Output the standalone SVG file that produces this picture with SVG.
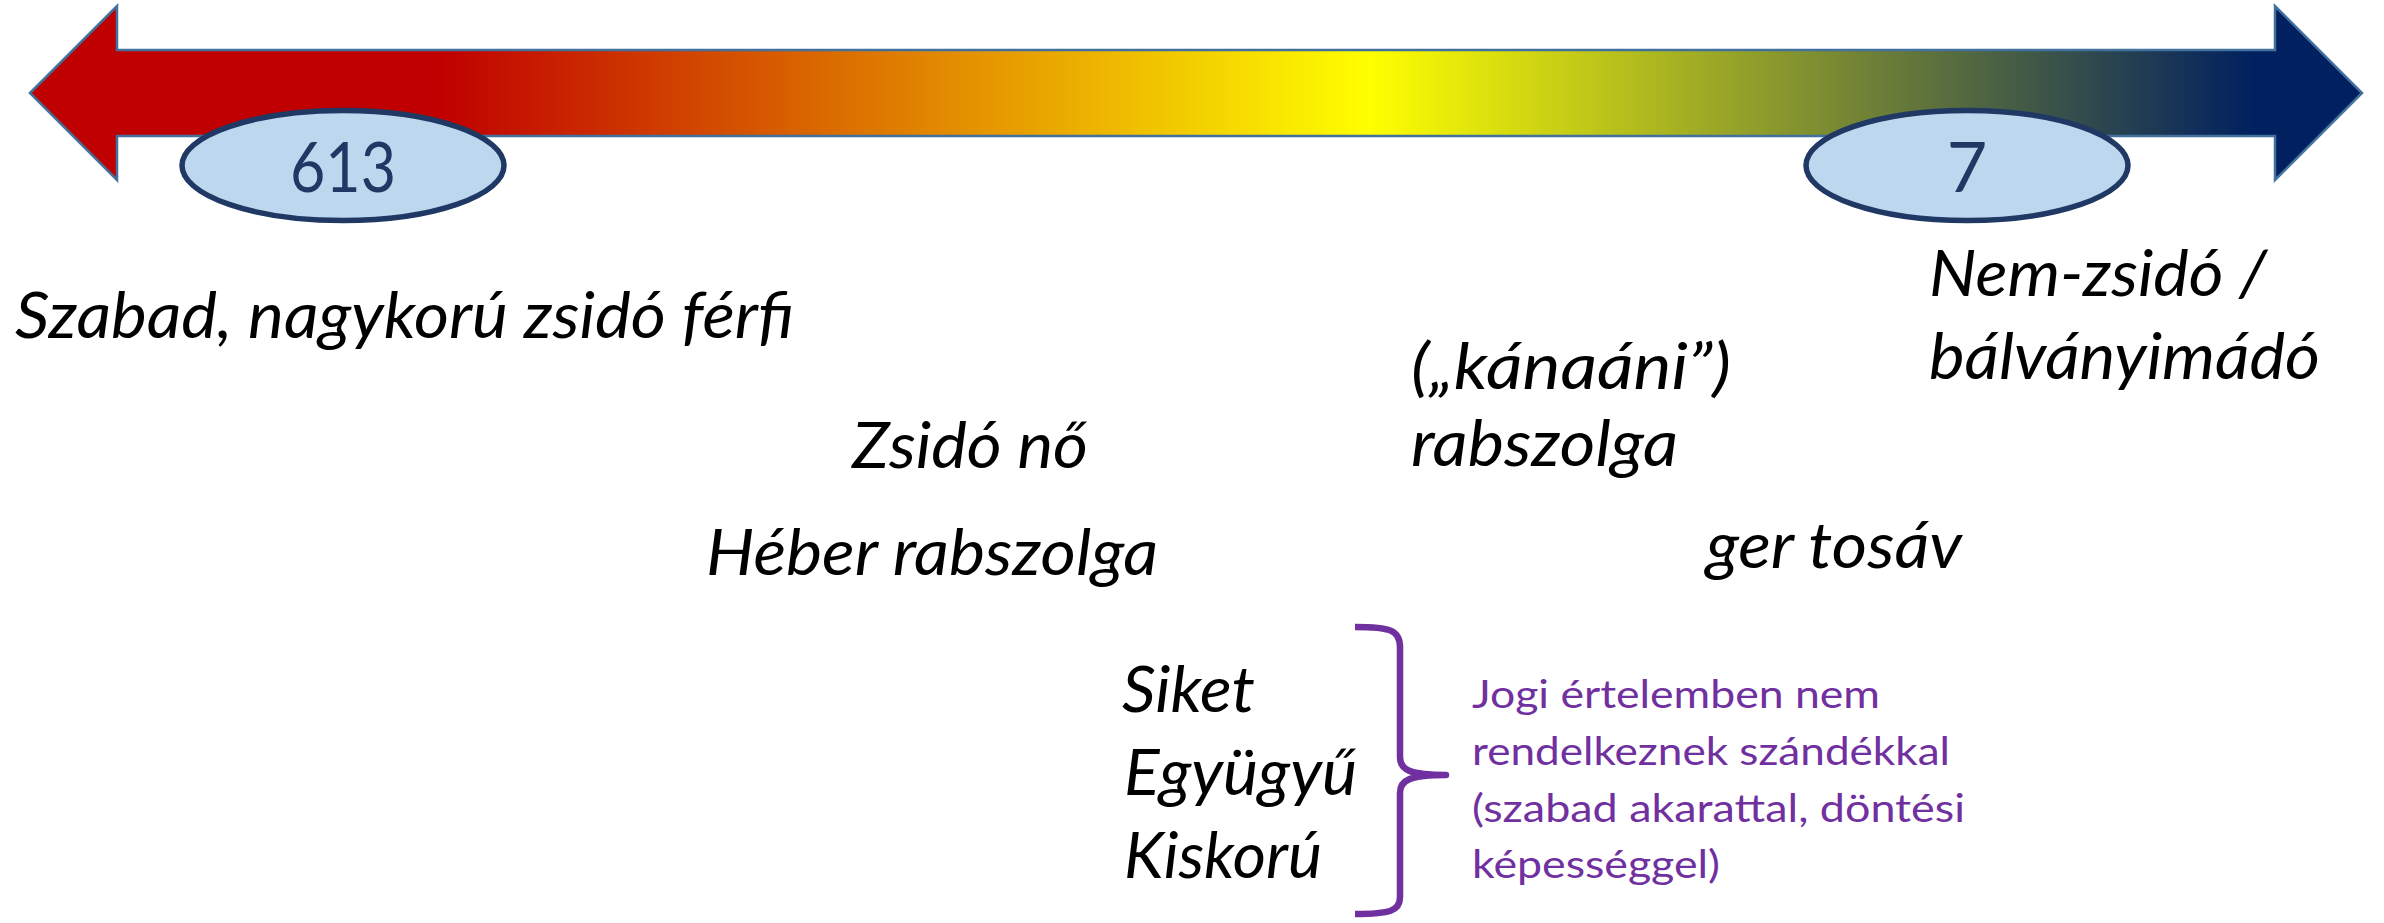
<svg xmlns="http://www.w3.org/2000/svg" width="2384" height="923" viewBox="0 0 2384 923">
  <style>
    .lbl { font-family: Lato, "Liberation Sans", sans-serif; font-style: italic; font-size: 64px; fill: #000000; }
    .note { font-family: Lato, "Liberation Sans", sans-serif; font-size: 39px; fill: #7030A0; }
    .num { font-family: Lato, "Liberation Sans", sans-serif; font-size: 70px; fill: #203864; text-anchor: middle; }
    .oval { fill: #BDD7EE; stroke: #203864; stroke-width: 5.5; }
    .brace { fill: none; stroke: #7030A0; stroke-width: 6.5; stroke-linejoin: round; }
  </style>
  <defs>
    <linearGradient id="spectrum" gradientUnits="userSpaceOnUse" x1="30" y1="0" x2="2362" y2="0">
      <stop offset="0" stop-color="#C00000"/>
      <stop offset="0.176" stop-color="#C00000"/>
      <stop offset="0.574" stop-color="#FFFF00"/>
      <stop offset="0.954" stop-color="#002060"/>
      <stop offset="1" stop-color="#002060"/>
    </linearGradient>
  </defs>
  <rect width="2384" height="923" fill="#FFFFFF"/>

  <g id="scale-arrow">
    <path d="M30,93 L117,6 L117,50 L2275,50 L2275,6 L2362,93 L2275,180 L2275,136 L117,136 L117,180 Z" fill="url(#spectrum)" stroke="#41719C" stroke-width="2.5" stroke-linejoin="miter"/>
  </g>

  <g id="node-613">
    <ellipse class="oval" cx="343" cy="165.5" rx="161" ry="55"/>
    <text class="num" x="343" y="192" textLength="106" lengthAdjust="spacingAndGlyphs">613</text>
  </g>

  <g id="node-7">
    <ellipse class="oval" cx="1967" cy="165.5" rx="161" ry="55"/>
    <text class="num" x="1967" y="192">7</text>
  </g>

  <g id="label-szabad">
    <text class="lbl" x="15" y="338" textLength="779" lengthAdjust="spacingAndGlyphs">Szabad, nagykorú zsidó férfi</text>
  </g>
  <g id="label-zsido-no">
    <text class="lbl" x="852" y="468" textLength="236" lengthAdjust="spacingAndGlyphs">Zsidó nő</text>
  </g>
  <g id="label-heber">
    <text class="lbl" x="706" y="575" textLength="452" lengthAdjust="spacingAndGlyphs">Héber rabszolga</text>
  </g>
  <g id="label-kanaani">
    <text class="lbl" x="1411" y="389" textLength="320" lengthAdjust="spacingAndGlyphs">(„kánaáni”)</text>
    <text class="lbl" x="1411" y="466" textLength="267" lengthAdjust="spacingAndGlyphs">rabszolga</text>
  </g>
  <g id="label-ger">
    <text class="lbl" x="1706" y="568" textLength="256" lengthAdjust="spacingAndGlyphs">ger tosáv</text>
  </g>
  <g id="label-nemzsido">
    <text class="lbl" x="1929" y="296" textLength="338" lengthAdjust="spacingAndGlyphs">Nem-zsidó /</text>
    <text class="lbl" x="1929" y="379" textLength="391" lengthAdjust="spacingAndGlyphs">bálványimádó</text>
  </g>
  <g id="label-group">
    <text class="lbl" x="1122" y="712" textLength="133" lengthAdjust="spacingAndGlyphs">Siket</text>
    <text class="lbl" x="1124" y="795" textLength="233" lengthAdjust="spacingAndGlyphs">Együgyű</text>
    <text class="lbl" x="1124" y="878" textLength="198" lengthAdjust="spacingAndGlyphs">Kiskorú</text>
  </g>

  <g id="connectors">
    <path class="brace" d="M1355,627 C1390,627 1400,630 1400,647 L1400,757 C1400,770 1410,775 1446,775 C1410,775 1400,780 1400,793 L1400,897 C1400,911 1390,914 1355,914"/>
  </g>

  <g id="note">
    <text class="note" x="1472" y="708" textLength="408" lengthAdjust="spacingAndGlyphs">Jogi értelemben nem</text>
    <text class="note" x="1472" y="765" textLength="478" lengthAdjust="spacingAndGlyphs">rendelkeznek szándékkal</text>
    <text class="note" x="1472" y="822" textLength="493" lengthAdjust="spacingAndGlyphs">(szabad akarattal, döntési</text>
    <text class="note" x="1472" y="878" textLength="248" lengthAdjust="spacingAndGlyphs">képességgel)</text>
  </g>
</svg>
